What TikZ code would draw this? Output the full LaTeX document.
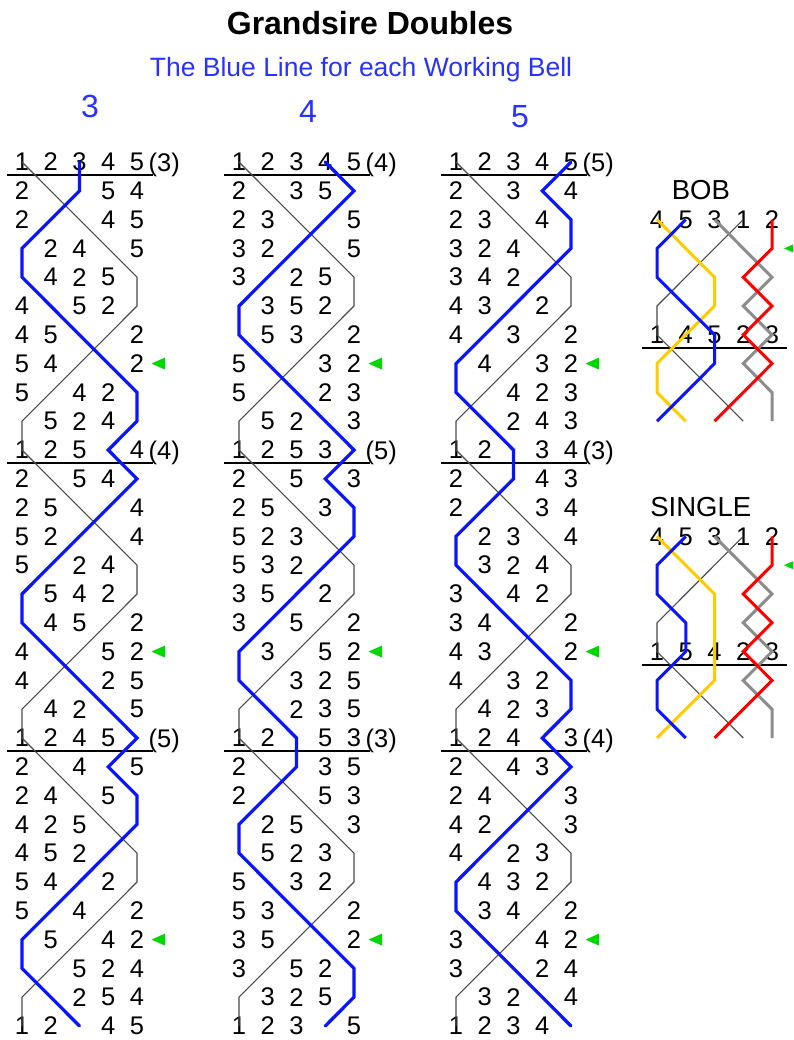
\documentclass[tikz,border=0pt]{standalone}
\usepackage{fontspec}
\setmainfont{Liberation Sans}
\definecolor{bellblue}{RGB}{10,20,255}
\definecolor{subblue}{RGB}{40,50,255}
\definecolor{bellgreen}{RGB}{0,215,0}
\definecolor{treble}{RGB}{75,75,75}
\definecolor{bellyellow}{RGB}{255,204,0}
\definecolor{bellgray}{RGB}{140,140,140}
\definecolor{bellred}{RGB}{255,0,0}
\begin{document}
\begin{tikzpicture}[x=1pt,y=-1pt,
  digit/.style={inner sep=0pt,font=\fontsize{25.5}{25.5}\selectfont},
  hdr/.style={inner sep=0pt,text=subblue,font=\fontsize{32}{32}\selectfont},
  lbl/.style={inner sep=0pt,font=\fontsize{27.5}{27.5}\selectfont},
  trebleline/.style={draw=treble,line width=1.1pt},
  blueline/.style={draw=bellblue,line width=3.2pt,line cap=round},
  yline/.style={draw=bellyellow,line width=3pt},
  gline/.style={draw=bellgray,line width=3pt},
  rline/.style={draw=bellred,line width=3pt},
  bline/.style={draw=bellblue,line width=3pt},
  leadline/.style={draw=black,line width=2pt},
  marker/.style={fill=bellgreen}
]
\path[use as bounding box] (0,0) rectangle (793,1040);
\fill[white] (0,0) rectangle (793,1040);
\clip (0,0) rectangle (793,1040);

% titles
\node[inner sep=0pt,anchor=base,font=\fontsize{32}{32}\selectfont\bfseries] (title) at (370,34.5) {Grandsire Doubles};
\node[inner sep=0pt,anchor=base,text=subblue,font=\fontsize{26.5}{26.5}\selectfont] (subtitle) at (361,77) {The Blue Line for each Working Bell};
\node[hdr] (h3) at (90,106) {3};
\node[hdr] (h4) at (308,111) {4};
\node[hdr] (h5) at (520,116.5) {5};

% main grid: coordinates and digits
\foreach \c/\bb/\xo in {1/3/22,2/4/239,3/5/456}{
  \foreach \row [count=\r] in {{1,2,3,4,5},{2,1,3,5,4},{2,3,1,4,5},{3,2,4,1,5},{3,4,2,5,1},
     {4,3,5,2,1},{4,5,3,1,2},{5,4,1,3,2},{5,1,4,2,3},{1,5,2,4,3},
     {1,2,5,3,4},{2,1,5,4,3},{2,5,1,3,4},{5,2,3,1,4},{5,3,2,4,1},
     {3,5,4,2,1},{3,4,5,1,2},{4,3,1,5,2},{4,1,3,2,5},{1,4,2,3,5},
     {1,2,4,5,3},{2,1,4,3,5},{2,4,1,5,3},{4,2,5,1,3},{4,5,2,3,1},
     {5,4,3,2,1},{5,3,4,1,2},{3,5,1,4,2},{3,1,5,2,4},{1,3,2,5,4},
     {1,2,3,4,5}}{
    \foreach \b [count=\p] in \row {
      \coordinate (p\c-\r-\p) at ({\xo+(\p-1)*28.75},{162+(\r-1)*28.8});
      \coordinate (m\c-\r-\b) at (p\c-\r-\p);
      \pgfmathtruncatemacro\hide{or(and(\b==\bb,\r>1),and(\b==1,mod(\r-1,10)!=0))}
      \ifnum\hide=0 \node[digit] (t\c-\r-\p) at (p\c-\r-\p) {\b};\fi
    }
  }
}

% place-bell labels
\foreach \c/\la/\lb/\lc in {1/3/4/5,2/4/5/3,3/5/3/4}{
  \node[digit,anchor=base west] (q\c-1) at ([xshift=11.5pt,yshift=-9.1pt]p\c-1-5) {(\la)};
  \node[digit,anchor=base west] (q\c-11) at ([xshift=11.5pt,yshift=-9.1pt]p\c-11-5) {(\lb)};
  \node[digit,anchor=base west] (q\c-21) at ([xshift=11.5pt,yshift=-9.1pt]p\c-21-5) {(\lc)};
}

% lines of the main columns
\foreach \c/\bb in {1/3,2/4,3/5}{
  \foreach \r in {1,11,21}{
    \draw[leadline] ([xshift=-15pt,yshift=-12.7pt]p\c-\r-1) -- ([xshift=16pt,yshift=-12.7pt]p\c-\r-5);
  }
  \foreach \r in {8,18,28}{
    \fill[marker] ([xshift=14.5pt]p\c-\r-5) -- ++(13.5,-6) -- ++(0,12) -- cycle;
  }
  \draw[trebleline] (m\c-1-1) \foreach \r in {2,...,31}{ -- (m\c-\r-1)};
  \draw[blueline] (m\c-1-\bb) \foreach \r in {2,...,31}{ -- (m\c-\r-\bb)};
}

% BOB
\node[lbl] (bob) at (700.8,190) {BOB};
\foreach \row [count=\r] in {{4,5,3,1,2},{5,4,1,3,2},{5,1,4,2,3},{1,5,4,3,2},
    {1,4,5,2,3},{4,1,5,3,2},{4,5,1,2,3},{5,4,2,1,3}}{
  \foreach \b [count=\p] in \row {
    \coordinate (bp-\r-\p) at ({657+(\p-1)*28.75},{219.6+(\r-1)*28.8});
    \coordinate (bm-\r-\b) at (bp-\r-\p);
    \ifnum\r=1 \node[digit] (bt-\r-\p) at (bp-\r-\p) {\b};\fi
    \ifnum\r=5 \node[digit] (bt-\r-\p) at (bp-\r-\p) {\b};\fi
  }
}
\draw[leadline] ([xshift=-15pt,yshift=-13pt]bp-5-1) -- ([xshift=15pt,yshift=-13pt]bp-5-5);
\fill[marker] ([xshift=12pt]bp-2-5) -- ++(13.5,-6) -- ++(0,12) -- cycle;
\draw[trebleline] (bm-1-1) \foreach \r in {2,...,8}{ -- (bm-\r-1)};
\draw[yline] (bm-1-4) \foreach \r in {2,...,8}{ -- (bm-\r-4)};
\draw[bline] (bm-1-5) \foreach \r in {2,...,8}{ -- (bm-\r-5)};
\draw[gline] (bm-1-3) \foreach \r in {2,...,8}{ -- (bm-\r-3)};
\draw[rline] (bm-1-2) \foreach \r in {2,...,8}{ -- (bm-\r-2)};

% SINGLE
\node[lbl] (single) at (700.8,506.7) {SINGLE};
\foreach \row [count=\r] in {{4,5,3,1,2},{5,4,1,3,2},{5,1,4,2,3},{1,5,4,3,2},
    {1,5,4,2,3},{5,1,4,3,2},{5,4,1,2,3},{4,5,2,1,3}}{
  \foreach \b [count=\p] in \row {
    \coordinate (sp-\r-\p) at ({657+(\p-1)*28.75},{536.4+(\r-1)*28.8});
    \coordinate (sm-\r-\b) at (sp-\r-\p);
    \ifnum\r=1 \node[digit] (st-\r-\p) at (sp-\r-\p) {\b};\fi
    \ifnum\r=5 \node[digit] (st-\r-\p) at (sp-\r-\p) {\b};\fi
  }
}
\draw[leadline] ([xshift=-15pt,yshift=-13pt]sp-5-1) -- ([xshift=15pt,yshift=-13pt]sp-5-5);
\fill[marker] ([xshift=12pt]sp-2-5) -- ++(13.5,-6) -- ++(0,12) -- cycle;
\draw[trebleline] (sm-1-1) \foreach \r in {2,...,8}{ -- (sm-\r-1)};
\draw[yline] (sm-1-4) \foreach \r in {2,...,8}{ -- (sm-\r-4)};
\draw[bline] (sm-1-5) \foreach \r in {2,...,8}{ -- (sm-\r-5)};
\draw[gline] (sm-1-3) \foreach \r in {2,...,8}{ -- (sm-\r-3)};
\draw[rline] (sm-1-2) \foreach \r in {2,...,8}{ -- (sm-\r-2)};
\end{tikzpicture}
\end{document}
